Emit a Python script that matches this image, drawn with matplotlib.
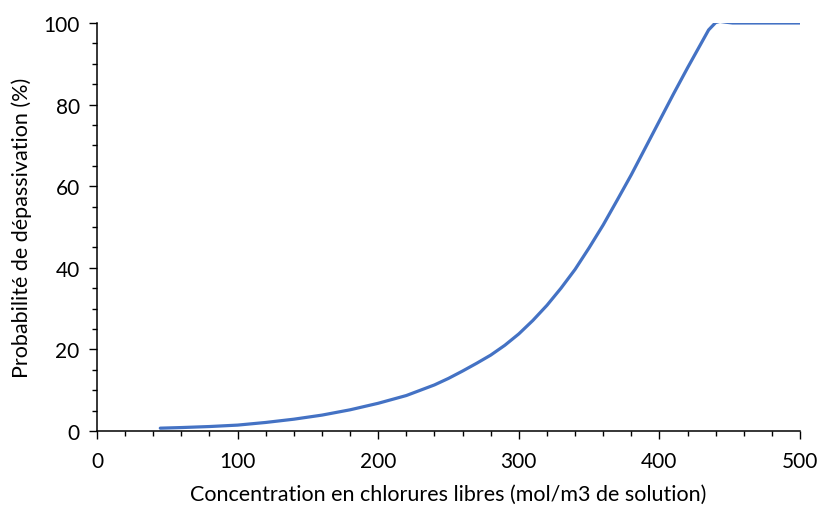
import matplotlib
matplotlib.use('Agg')
import matplotlib.pyplot as plt
from matplotlib.ticker import MultipleLocator

# Courbe
conc = [45, 60, 80, 100, 120, 140, 160, 180, 200, 220, 240, 250, 260, 270, 280, 290, 300,
        310, 320, 330, 340, 350, 360, 370, 380, 390, 400, 410, 420, 430, 435, 440, 443,
        447, 452, 470, 500]
proba = [0.7, 0.85, 1.1, 1.45, 2.1, 2.9, 3.9, 5.2, 6.8, 8.7, 11.3, 12.9, 14.7, 16.6, 18.6, 21.0, 23.8,
         27.1, 30.8, 35.0, 39.6, 44.9, 50.5, 56.6, 62.8, 69.4, 76.0, 82.6, 89.0, 95.2, 98.3, 100.1, 100.4,
         100.2, 100.0, 100.0, 100.0]

xlabel = 'Concentration en chlorures libres (mol/m3 de solution)'
ylabel = 'Probabilité de dépassivation (%)'

plt.rcParams['font.family'] = ['Lato', 'DejaVu Sans']

fig = plt.figure(figsize=(8.18, 5.06), dpi=100)
ax = fig.add_axes([0.1186, 0.1462, 0.978 - 0.1186, 0.9526 - 0.1462])

ax.plot(conc, proba, color='#4472C4', lw=2.3, solid_capstyle='round', solid_joinstyle='round')

ax.set_xlim(0, 500)
ax.set_ylim(0, 100)
ax.xaxis.set_major_locator(MultipleLocator(100))
ax.xaxis.set_minor_locator(MultipleLocator(20))
ax.yaxis.set_major_locator(MultipleLocator(20))
ax.yaxis.set_minor_locator(MultipleLocator(5))

for s in ['top', 'right']:
    ax.spines[s].set_visible(False)
for s in ['left', 'bottom']:
    ax.spines[s].set_linewidth(1.1)
    ax.spines[s].set_color('black')

ax.tick_params(which='major', direction='out', length=5.5, width=1, labelsize=15, colors='black', pad=7)
ax.tick_params(axis='x', which='major', pad=9)
ax.tick_params(which='minor', direction='out', length=3.5, width=1, colors='black')

ax.set_xlabel(xlabel, fontsize=15.5, labelpad=9)
ax.set_ylabel(ylabel, fontsize=15.5, labelpad=8)

fig.savefig('out.png', dpi=100)
